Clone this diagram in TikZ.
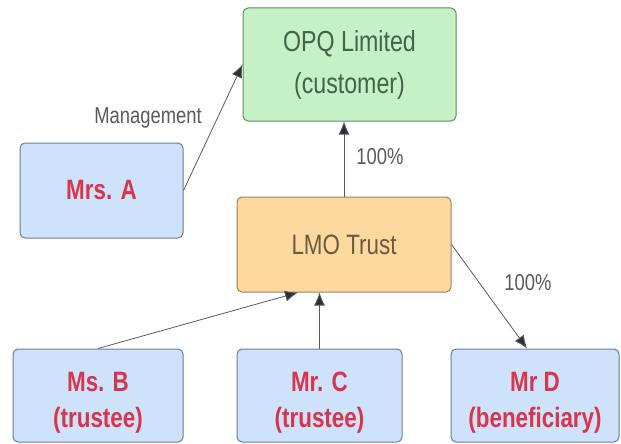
\documentclass[tikz,border=0pt]{standalone}
\usepackage{fontspec}
\setmainfont[FakeStretch=0.8]{Liberation Sans}
\usepackage{tikz}
\usetikzlibrary{arrows.meta}
\definecolor{lgreen}{HTML}{C6F0C6}
\definecolor{dgreen}{HTML}{5F8F62}
\definecolor{lblue}{HTML}{CFE2FB}
\definecolor{dblue}{HTML}{6D7D92}
\definecolor{lorange}{HTML}{FDD89F}
\definecolor{dorange}{HTML}{9A825C}
\definecolor{redtext}{HTML}{D8344A}
\definecolor{linegray}{HTML}{5A5A5A}
\definecolor{tipgray}{HTML}{2A313D}
\tikzstyle{box} = [draw, rounded corners=5pt, line width=1pt, align=center, inner sep=0pt]
\tikzstyle{company}=[box, fill=lgreen, draw=dgreen, text=dgreen!70!black, font=\fontsize{29}{42}\selectfont]
\tikzstyle{trust}=[box, fill=lorange, draw=dorange, text=dorange!70!black, font=\fontsize{28}{36}\selectfont]
\tikzstyle{person}=[box, fill=lblue, draw=dblue, text=redtext, font=\bfseries\fontsize{28}{36}\selectfont]

\begin{document}
\begin{tikzpicture}[x=1pt, y=-1pt,
                    link/.style={draw=linegray, line width=0.8pt, -{Latex[length=13pt,width=11pt,fill=tipgray]}},
                    share/.style={text=linegray, font=\fontsize{23}{26}\selectfont}]

    \useasboundingbox (0,0) rectangle (621,444);

    % customer
    \node[company, minimum width=213, minimum height=113] (opq) at (349.5,64.5) {OPQ Limited\\(customer)};
    % management
    \node[person, minimum width=163, minimum height=95] (mrsa) at (101.5,190.5) {Mrs. A};
    % trust
    \node[trust, minimum width=214, minimum height=95] (lmo) at (344,244.5) {LMO Trust};
    % trustees and beneficiary
    \node[person, minimum width=170, minimum height=93] (msb) at (98,395.5) {\rule{0pt}{34pt}Ms. B\\(trustee)};
    \node[person, minimum width=165, minimum height=93] (mrc) at (319.5,395.5) {\rule{0pt}{34pt}Mr. C\\(trustee)};
    \node[person, minimum width=168, minimum height=93] (mrd) at (535,395.5) {\rule{0pt}{34pt}Mr D\\(beneficiary)};

    % labels
    \node[share] (lman) at (148,118) {Management};
    \node[share] (lup) at (380,157) {100\%};
    \node[share] (lright) at (528,283) {100\%};

    % arrows to customer
    \draw[link] (mrsa.east) -- (opq.west);
    \draw[link] (lmo.north) -- (lmo.north |- opq.south);

    % arrows to trust
    \draw[link] (msb.north) -- ([xshift=-46pt]lmo.south);
    \draw[link] (mrc.north) -- (mrc.north |- lmo.south);

    % arrow to beneficiary
    \draw[link] (lmo.east) -- ([xshift=-8pt]mrd.north);
\end{tikzpicture}
\end{document}
